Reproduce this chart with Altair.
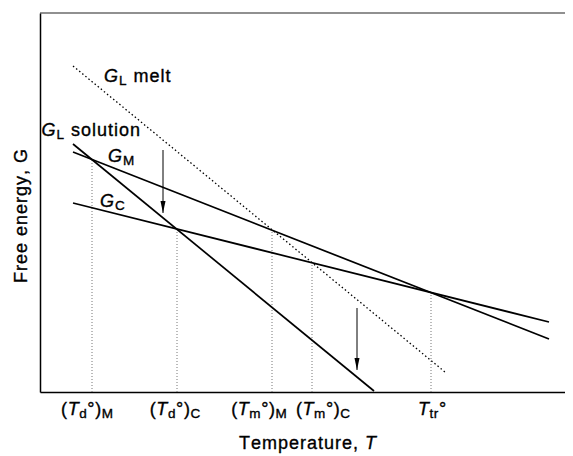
import altair as alt
import pandas as pd

# ---------------- data (1 unit = 1 px of plot) ----------
T_MAX = 525
G_MAX = 379

curve_names = ["G_M", "G_C", "G_L solution", "G_L melt"]
curve_T_start = [33, 33, 33, 33]
curve_T_end = [509, 509, 334, 405]
curve_G_start = [240, 189, 248, 326]
curve_G_end = [53, 70, 1, 20]
curve_dotted = [False, False, False, True]

# characteristic temperatures and the G where the dotted verticals stop
tick_T = [52, 137, 232, 272, 391]
tick_G = [233, 163, 161, 129, 100]
tick_sub1 = ["d", "d", "m", "m", "tr"]
tick_sub2 = ["M", "C", "M", "C", ""]
tick_nudge = [-5, -2, -13, 11, 1]

# arrows (shaft start, tip)
arrow_T = [123, 317]
arrow_G_start = [242, 84]
arrow_G_tip = [179, 22]

# in-plot curve labels: (italic main, subscript, rest, left x, baseline G)
lab_main = ["G", "G", "G", "G"]
lab_sub = ["L", "L", "M", "C"]
lab_rest = [" melt", " solution", "", ""]
lab_x = [64, 1.5, 68, 60]
lab_y = [310, 256, 230, 185]

x_title = [("Temperature, ", "n"), ("T", "i")]
y_title = [("Free energy, G", "n")]

# ---------------- text layout helpers ----------------------------------------
FONT = "Liberation Sans"
MAIN = 18
SUB = 13.5
SUB_DROP = 3
TRACK = 1.0
W = {" ": 278, "(": 333, ")": 333, ",": 278, "°": 400, "C": 722, "F": 611,
     "G": 778, "L": 556, "M": 833, "T": 611, "a": 556, "d": 556, "e": 556,
     "g": 556, "i": 222, "l": 222, "m": 833, "n": 556, "o": 556, "p": 556,
     "r": 333, "s": 500, "t": 278, "u": 556, "y": 500}


def cw(c, style):
    return W.get(c, 556) * (SUB if style == "s" else MAIN) / 1000.0


def width(frags, track=TRACK):
    n = sum(len(t) for t, _ in frags)
    return sum(cw(c, s) for t, s in frags for c in t) + track * (n - 1)


def layout(frags, x0, y0, rot=0, track=TRACK):
    rows = []
    pos = 0.0
    for text, style in frags:
        drop = SUB_DROP if style == "s" else 0
        for c in text:
            if c != " ":
                if rot == 0:
                    rows.append(dict(x=x0 + pos, y=y0 - drop, ch=c, st=style, rot=0))
                else:
                    rows.append(dict(x=x0 + drop, y=y0 + pos, ch=c, st=style, rot=1))
            pos += cw(c, style) + track
    return rows


rows = []
for t, s1, s2, nd in zip(tick_T, tick_sub1, tick_sub2, tick_nudge):
    if s2:
        fr = [("(", "n"), ("T", "i"), (s1, "s"), ("°)", "n"), (s2, "s")]
    else:
        fr = [("T", "i"), (s1, "s"), ("°", "n")]
    rows += layout(fr, t + nd - width(fr, 0.6) / 2, -23, track=0.6)

for m, s, r, x, y in zip(lab_main, lab_sub, lab_rest, lab_x, lab_y):
    fr = [(m, "i"), (s, "s")] + ([(r, "n")] if r else [])
    rows += layout(fr, x, y)

rows += layout(x_title, 199, -57)
rows += layout(y_title, -13, 176 - width(y_title) / 2, rot=1)
text_df = pd.DataFrame(rows)

curves = pd.DataFrame(
    [dict(curve=n, T=t, G=g, dotted=d)
     for n, t0, t1, g0, g1, d in zip(curve_names, curve_T_start, curve_T_end,
                                      curve_G_start, curve_G_end, curve_dotted)
     for t, g in ((t0, g0), (t1, g1))])

verts = pd.DataFrame(dict(T=tick_T, G0=[0] * len(tick_T), G1=tick_G))
arrows = pd.DataFrame(dict(T=arrow_T, G0=arrow_G_start, G1=arrow_G_tip))
HEAD = 12
heads = pd.DataFrame(dict(T=arrow_T, G=[g + HEAD / 2 for g in arrow_G_tip]))

# ---------------- chart ----------------------------------------------------
xs = alt.Scale(domain=[0, T_MAX], nice=False, zero=False)
ys = alt.Scale(domain=[0, G_MAX], nice=False, zero=False)
xax = alt.Axis(domain=True, domainColor="black", domainWidth=1.5, ticks=False,
               labels=False, grid=False, title=None)
yax = alt.Axis(domain=True, domainColor="black", domainWidth=1.5, ticks=False,
               labels=False, grid=False, title=None)

top = alt.Chart(pd.DataFrame({"a": [0]})).mark_rule(color="#222", strokeWidth=1.2).encode(
    x=alt.value(0), x2=alt.value(T_MAX), y=alt.value(0))

vlines = alt.Chart(verts).mark_rule(color="#777", strokeWidth=1, strokeDash=[1, 2]).encode(
    x=alt.X("T:Q", scale=xs, axis=xax),
    y=alt.Y("G0:Q", scale=ys, axis=yax),
    y2="G1:Q")

solid = alt.Chart(curves).transform_filter("!datum.dotted").mark_line(
    color="black", strokeWidth=1.7).encode(
    x=alt.X("T:Q", scale=xs, axis=xax), y=alt.Y("G:Q", scale=ys, axis=yax),
    detail="curve:N")

dotted = alt.Chart(curves).transform_filter("datum.dotted").mark_line(
    color="black", strokeWidth=1.3, strokeDash=[1.5, 2.5]).encode(
    x=alt.X("T:Q", scale=xs, axis=xax), y=alt.Y("G:Q", scale=ys, axis=yax),
    detail="curve:N")

shafts = alt.Chart(arrows).mark_rule(color="black", strokeWidth=1).encode(
    x=alt.X("T:Q", scale=xs, axis=xax), y=alt.Y("G0:Q", scale=ys, axis=yax),
    y2="G1:Q")

arrowheads = alt.Chart(heads).mark_point(
    shape="M-0.42,-1L0.42,-1L0,1Z", filled=True, color="black", size=HEAD * HEAD,
    opacity=1).encode(
    x=alt.X("T:Q", scale=xs, axis=xax), y=alt.Y("G:Q", scale=ys, axis=yax))


def txt(filt, **kw):
    return alt.Chart(text_df).transform_filter(filt).mark_text(
        align="left", baseline="alphabetic", font=FONT, color="black",
        stroke="black", strokeWidth=0.35, **kw).encode(
        x=alt.X("x:Q", scale=xs, axis=xax), y=alt.Y("y:Q", scale=ys, axis=yax),
        text="ch:N")


t_norm = txt("datum.st=='n' && datum.rot==0", fontSize=MAIN)
t_ital = txt("datum.st=='i' && datum.rot==0", fontSize=MAIN, fontStyle="italic")
t_sub = txt("datum.st=='s' && datum.rot==0", fontSize=SUB)
t_rot = txt("datum.rot==1", fontSize=MAIN, angle=270)

chart = alt.layer(top, vlines, solid, dotted, shafts, arrowheads,
                  t_norm, t_ital, t_sub, t_rot).properties(
    width=T_MAX, height=G_MAX,
    autosize=alt.AutoSizeParams(type="none"),
    padding={"left": 32, "top": 5, "right": 0, "bottom": 64},
).configure_view(strokeWidth=0)

chart.save("out.html", embed_options={"renderer": "svg", "actions": False})
